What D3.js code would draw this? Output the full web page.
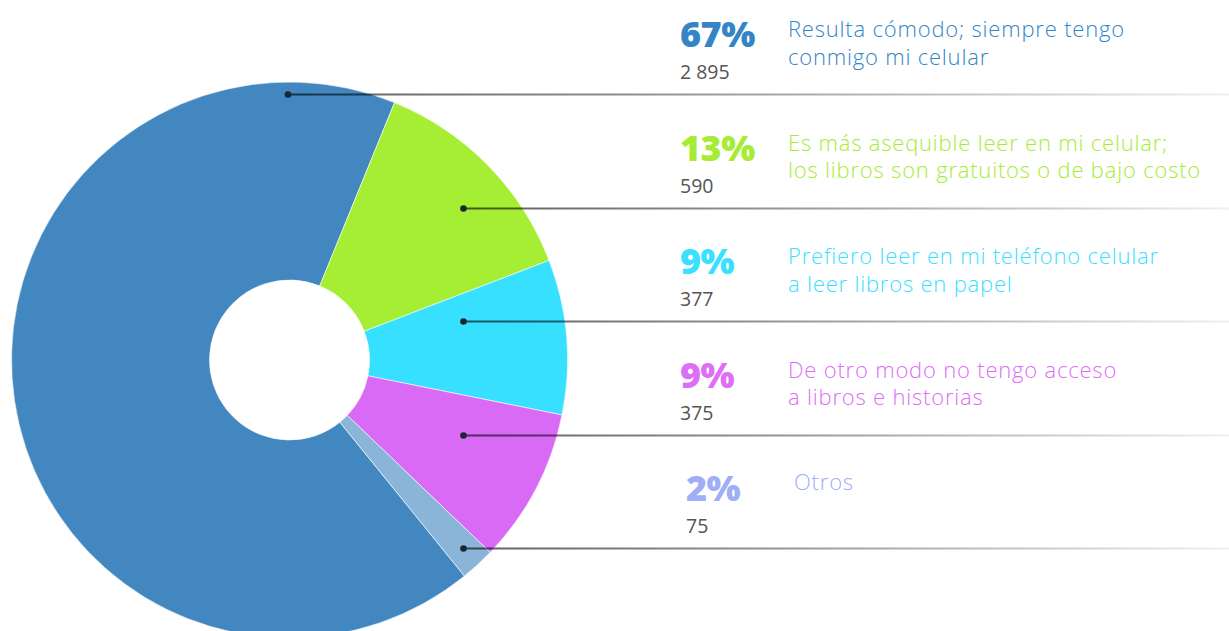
<!DOCTYPE html>
<html><head><meta charset="utf-8">
<script src="https://cdn.jsdelivr.net/npm/d3@7"></script>
<style>html,body{margin:0;padding:0;background:#fff;overflow:hidden}</style>
</head><body>
<svg id="chart" width="1229" height="631"></svg>
<script>
const categories = [
  ["Resulta cómodo; siempre tengo", "conmigo mi celular"],
  ["Es más asequible leer en mi celular;", "los libros son gratuitos o de bajo costo"],
  ["Prefiero leer en mi teléfono celular", "a leer libros en papel"],
  ["De otro modo no tengo acceso", "a libros e historias"],
  ["Otros"]
];
const counts = [2895, 590, 377, 375, 75];
const percents = [67, 13, 9, 9, 2];
const percentLabels = ["67%", "13%", "9%", "9%", "2%"];
const countLabels = ["2 895", "590", "377", "375", "75"];
const sliceColors = ["#4387c0", "#a6ee33", "#38e0ff", "#d96af5", "#8ab4d8"];
const textColors = ["#3585c6", "#a6ec34", "#3ae0ff", "#dc6ff5", "#a0adf8"];

const svg = d3.select("#chart");
const W = 1229;
const cx = 289.5, cy = 360, R = 278, r0 = 80;
const start = -219 * Math.PI / 180;

const pie = d3.pie().sort(null).value(d => d).startAngle(start).endAngle(start + 2 * Math.PI);
const arcs = pie(percents);
const arc = d3.arc().innerRadius(r0).outerRadius(R);

const g = svg.append("g").attr("transform", `translate(${cx},${cy})`);
g.selectAll("path").data(arcs).join("path")
  .attr("d", arc)
  .attr("fill", (d, i) => sliceColors[i])
  .attr("stroke", "#fff").attr("stroke-width", 0.6);

// gradient for leader lines
const defs = svg.append("defs");
const grad = defs.append("linearGradient").attr("id", "lg")
  .attr("x1", "0%").attr("x2", "100%").attr("y1", "0%").attr("y2", "0%");
grad.append("stop").attr("offset", "0%").attr("stop-color", "#000").attr("stop-opacity", 0.62);
grad.append("stop").attr("offset", "35%").attr("stop-color", "#000").attr("stop-opacity", 0.45);
grad.append("stop").attr("offset", "100%").attr("stop-color", "#000").attr("stop-opacity", 0.06);

const rowY = d3.scaleLinear().domain([0, 4]).range([47, 501]);
const rows = svg.append("g");
counts.forEach((c, i) => {
  const by = rowY(i);
  const shift = i === 4 ? 6 : 0;
  const lineY = Math.round(by + 47) + 0.5;
  const dotX = i === 0 ? cx - 1.5 : cx + 174;
  rows.append("rect")
    .attr("x", dotX).attr("y", lineY - 1)
    .attr("width", W - dotX).attr("height", 2)
    .attr("fill", "url(#lg)");
  rows.append("circle").attr("cx", dotX).attr("cy", lineY).attr("r", 3.3).attr("fill", "#1b2630");

  rows.append("text")
    .attr("x", 680 + shift).attr("y", by)
    .attr("font-family", "'Open Sans', sans-serif").attr("font-weight", 800)
    .attr("font-size", 36).attr("letter-spacing", -0.5)
    .attr("fill", textColors[i]).text(percentLabels[i]);
  rows.append("text")
    .attr("x", 680 + shift).attr("y", by + 32)
    .attr("font-family", "'Open Sans', sans-serif").attr("font-weight", 400)
    .attr("font-size", 19.5).attr("fill", "#555")
    .text(countLabels[i]);
  const t = rows.append("text")
    .attr("x", 788 + shift).attr("y", by - 10 - (i === 4 ? 1 : 0))
    .attr("font-family", "'Open Sans', sans-serif").attr("font-weight", 300)
    .attr("font-size", 22).attr("letter-spacing", 0.8)
    .attr("fill", textColors[i]);
  categories[i].forEach((line, k) => {
    t.append("tspan").attr("x", 788 + shift).attr("dy", k === 0 ? 0 : 27.5).text(line);
  });
});
</script>
</body></html>
